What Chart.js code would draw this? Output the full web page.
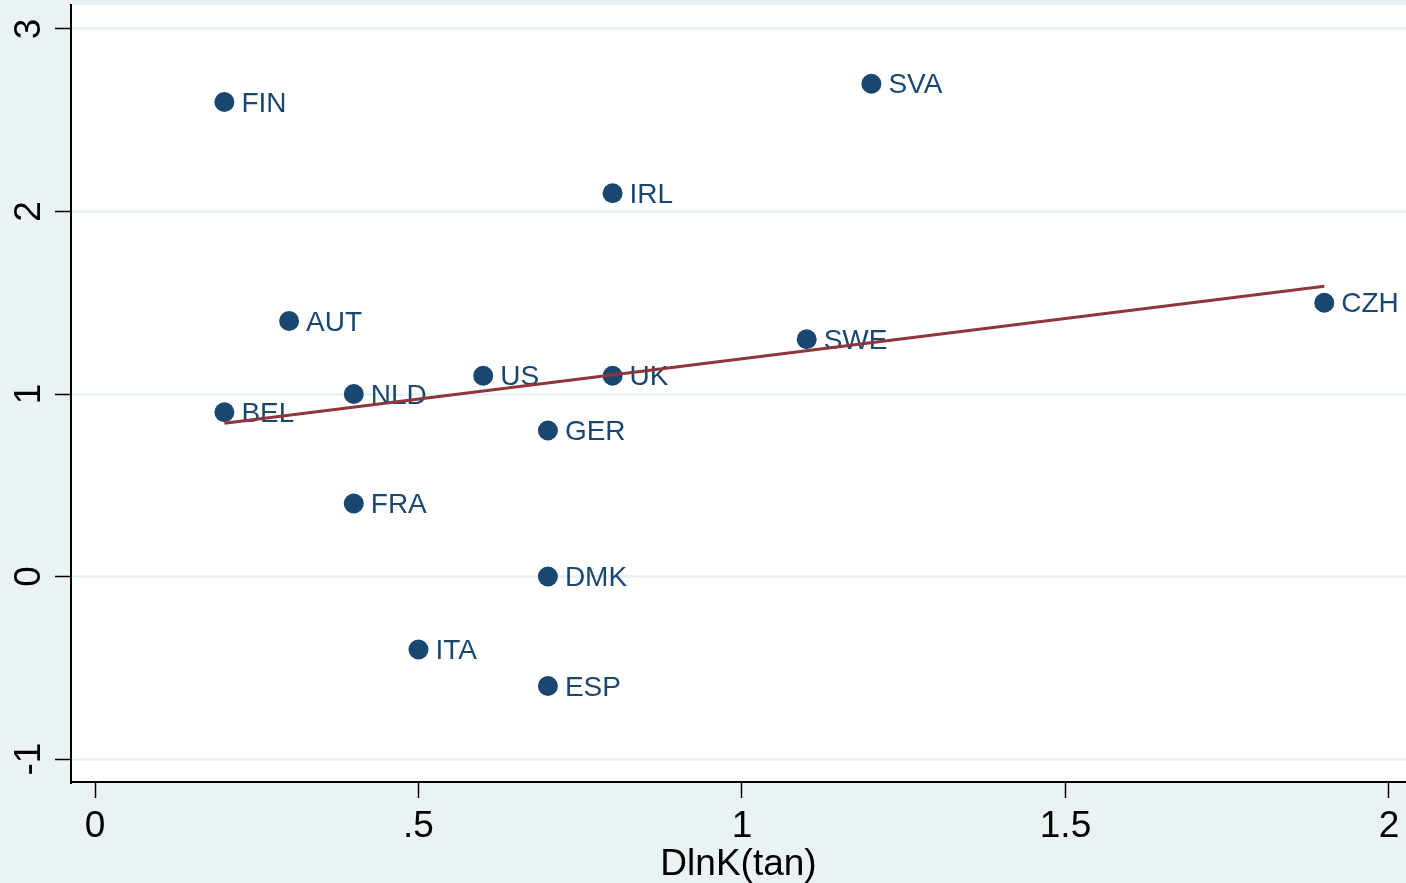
<!DOCTYPE html>
<html>
<head>
<meta charset="utf-8">
<script src="https://cdn.jsdelivr.net/npm/chart.js@4.4.1/dist/chart.umd.min.js"></script>
<style>
  html, body { margin: 0; padding: 0; background: #eaf2f3; }
  #wrap { width: 1406px; height: 883px; }
</style>
</head>
<body>
<div id="wrap"><canvas id="c" width="1406" height="883"></canvas></div>
<script>
// Country codes and their coordinates
const countries = ['FIN', 'SVA', 'IRL', 'AUT', 'CZH', 'SWE', 'US', 'UK', 'NLD', 'BEL', 'GER', 'FRA', 'DMK', 'ITA', 'ESP'];
const dlnK      = [0.2, 1.2, 0.8, 0.3, 1.9, 1.1, 0.6, 0.8, 0.4, 0.2, 0.7, 0.4, 0.7, 0.5, 0.7];
const growth    = [2.6, 2.7, 2.1, 1.4, 1.5, 1.3, 1.1, 1.1, 1.0, 0.9, 0.8, 0.4, 0.0, -0.4, -0.6];

// Fitted line end points
const fitX = [0.2, 1.9];
const fitY = [0.84, 1.59];

// Axis ticks
const xTicks = [0, 0.5, 1, 1.5, 2];
const xTickLabels = ['0', '.5', '1', '1.5', '2'];
const yTicks = [-1, 0, 1, 2, 3];
const yTickLabels = ['-1', '0', '1', '2', '3'];
const xTitle = 'DlnK(tan)';

const NAVY = '#1a476f';
const MAROON = '#90353b';
const BG = '#eaf2f3';
const FONT = "'Liberation Sans', Arial, Helvetica, sans-serif";

const points = dlnK.map((x, i) => ({ x: x, y: growth[i] }));
const fitLine = fitX.map((x, i) => ({ x: x, y: fitY[i] }));

const backdrop = {
  id: 'backdrop',
  beforeDraw(chart) {
    const { ctx, chartArea: a } = chart;
    ctx.save();
    ctx.fillStyle = BG;
    ctx.fillRect(0, 0, chart.width, chart.height);
    ctx.fillStyle = '#ffffff';
    ctx.fillRect(a.left, a.top, a.right - a.left, a.bottom - a.top);
    ctx.restore();
  }
};

// Country labels drawn right after the markers so the fit line sits on top
const pointLabels = {
  id: 'pointLabels',
  afterDatasetDraw(chart, args) {
    if (args.index !== 1) return;
    const { ctx } = chart;
    ctx.save();
    ctx.fillStyle = NAVY;
    ctx.font = '28px ' + FONT;
    ctx.textAlign = 'left';
    ctx.textBaseline = 'middle';
    args.meta.data.forEach((el, i) => {
      ctx.fillText(countries[i], el.x + 17, el.y + 2);
    });
    ctx.restore();
  }
};

// Rotated y tick labels
const yLabels = {
  id: 'yLabels',
  afterDraw(chart) {
    const { ctx } = chart;
    const ys = chart.scales.y;
    ctx.save();
    ctx.fillStyle = '#000000';
    ctx.font = '37px ' + FONT;
    ctx.textAlign = 'center';
    ctx.textBaseline = 'middle';
    yTicks.forEach((v, i) => {
      const py = ys.getPixelForValue(v);
      ctx.save();
      ctx.translate(30, py);
      ctx.rotate(-Math.PI / 2);
      ctx.fillText(yTickLabels[i], 0, 0);
      ctx.restore();
    });
    ctx.restore();
  }
};

function noPad(scale) {
  scale.paddingLeft = 0;
  scale.paddingRight = 0;
  scale.paddingTop = 0;
  scale.paddingBottom = 0;
}

new Chart(document.getElementById('c'), {
  type: 'scatter',
  data: {
    datasets: [
      {
        type: 'line',
        data: fitLine,
        borderColor: MAROON,
        borderWidth: 3,
        pointRadius: 0,
        fill: false,
        tension: 0
      },
      {
        data: points,
        backgroundColor: NAVY,
        borderColor: NAVY,
        borderWidth: 0,
        pointRadius: 10,
        pointHoverRadius: 10
      }
    ]
  },
  options: {
    responsive: false,
    devicePixelRatio: 1,
    animation: false,
    events: [],
    layout: { autoPadding: false, padding: { top: 5, right: 0, left: 0, bottom: 0 } },
    plugins: {
      legend: { display: false },
      tooltip: { enabled: false },
      title: { display: false }
    },
    scales: {
      x: {
        type: 'linear',
        min: -0.0371,
        max: 2.0263,
        afterBuildTicks(scale) {
          scale.ticks = xTicks.map(v => ({ value: v }));
        },
        afterFit(scale) { scale.height = 101; noPad(scale); },
        grid: {
          drawOnChartArea: false,
          drawTicks: true,
          tickLength: 16,
          tickColor: '#000000',
          tickWidth: 1.5
        },
        border: { display: true, color: '#000000', width: 2 },
        ticks: {
          color: '#000000',
          font: { family: FONT, size: 37 },
          padding: 7,
          maxRotation: 0,
          autoSkip: false,
          callback(value) {
            const i = xTicks.indexOf(value);
            return i >= 0 ? xTickLabels[i] : '';
          }
        },
        title: {
          display: true,
          text: xTitle,
          color: '#000000',
          font: { family: FONT, size: 37 },
          padding: { top: 0, bottom: -4 }
        }
      },
      y: {
        type: 'linear',
        min: -1.126,
        max: 3.1315,
        afterBuildTicks(scale) {
          scale.ticks = yTicks.map(v => ({ value: v }));
        },
        afterFit(scale) { scale.width = 71; noPad(scale); },
        grid: {
          color: BG,
          lineWidth: 3,
          drawTicks: true,
          tickLength: 16,
          tickColor: '#000000',
          tickWidth: 1.5
        },
        border: { display: true, color: '#000000', width: 2 },
        ticks: { display: false }
      }
    }
  },
  plugins: [backdrop, pointLabels, yLabels]
});
</script>
</body>
</html>
